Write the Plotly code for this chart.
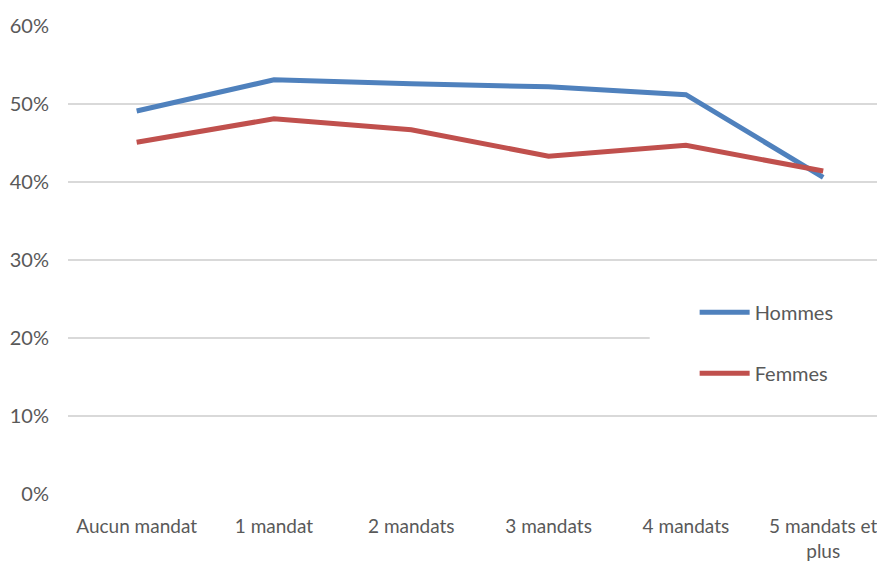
import plotly.graph_objects as go

# Data
categories = ['Aucun mandat', '1 mandat', '2 mandats', '3 mandats', '4 mandats', '5 mandats et<br>plus']
hommes = [0.491, 0.531, 0.526, 0.522, 0.512, 0.406]
femmes = [0.451, 0.481, 0.467, 0.433, 0.447, 0.414]

text_color = '#595959'
grid_color = '#d9d9d9'

fig = go.Figure()
fig.add_trace(go.Scatter(x=categories, y=hommes, mode='lines', name='Hommes',
                         legendgroup='h', line=dict(color='#4f81bd', width=5)))
fig.add_trace(go.Scatter(x=categories, y=femmes, mode='lines', name='Femmes',
                         legendgroup='f', line=dict(color='#c0504d', width=5)))

# white box behind the legend (hides the gridline like in the original)
fig.add_shape(type='rect', xref='paper', yref='paper', x0=0.712, x1=0.991, y0=0.2, y1=0.436,
              fillcolor='white', line=dict(width=0), layer='above')

# page body has an 8px margin, so the figure is shrunk by that much
fig.update_layout(
    width=877, height=560,
    margin=dict(l=60, r=0, t=18, b=74),
    paper_bgcolor='white', plot_bgcolor='white',
    font=dict(family='Lato', size=20, color=text_color),
    showlegend=True,
    legend=dict(x=0.767, y=0.43, xanchor='left', yanchor='top', bgcolor='rgba(0,0,0,0)',
                tracegroupgap=32, font=dict(size=20, color=text_color), itemwidth=50),
    xaxis=dict(type='category', range=[-0.5, 5.45], showgrid=False, showline=False,
               ticks='', ticklabelstandoff=19, tickfont=dict(size=19, color=text_color)),
    yaxis=dict(range=[0, 0.6], dtick=0.1, tickformat='.0%', showgrid=True, gridcolor=grid_color,
               gridwidth=1.5, zeroline=False, showline=False, ticks='', ticklabelstandoff=18,
               tickfont=dict(size=20, color=text_color)),
)

fig.write_html("out.html")
